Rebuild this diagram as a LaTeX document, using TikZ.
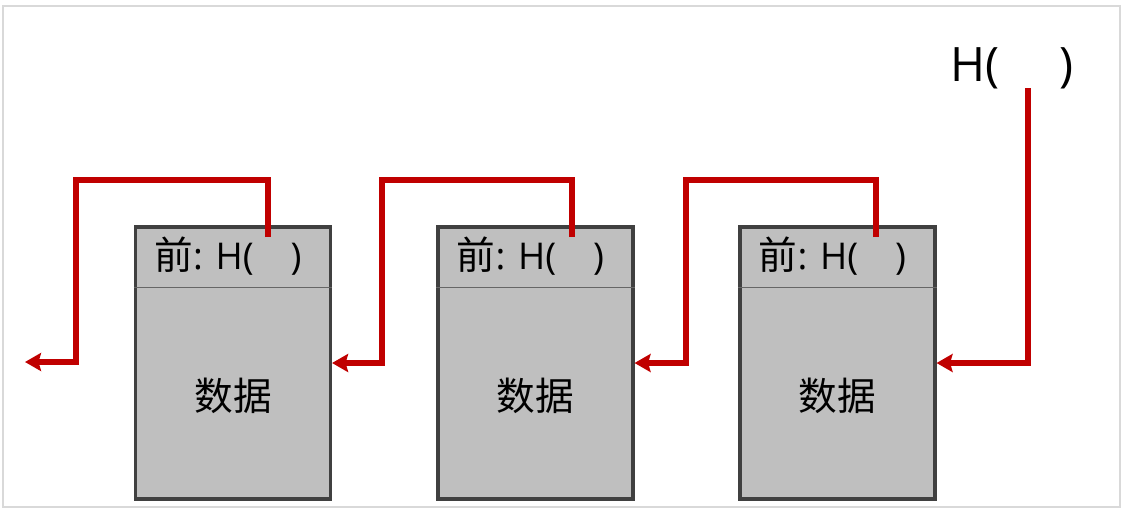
\documentclass[tikz,border=0pt]{standalone}
\usepackage{fontspec}
\setmainfont{Open Sans}
\newfontfamily\cjk{Noto Sans CJK SC}
\usetikzlibrary{arrows.meta,calc}
\definecolor{linkred}{HTML}{C00000}
\definecolor{boxgray}{HTML}{BFBFBF}
\definecolor{edgegray}{HTML}{404040}
\definecolor{framegray}{HTML}{D9D9D9}

\begin{document}
\begin{tikzpicture}[x=0.02cm,y=-0.02cm,
  block/.style={draw=edgegray,line width=1.8pt,fill=boxgray,minimum width=3.9cm,minimum height=5.44cm,inner sep=0pt},
  link/.style={draw=linkred,line width=3.1pt,-{Stealth[length=0.32cm,width=0.36cm,inset=0.05cm]}},
  head/.style={anchor=base,inner sep=0pt,font=\fontsize{21}{24}\selectfont},
  body/.style={inner sep=0pt,font=\cjk\fontsize{22}{26}\selectfont}]
\useasboundingbox (0,0) rectangle (1126,511);
\draw[framegray,line width=0.8pt] (3,6) rectangle (1120,507);
% the three blocks
\foreach \i/\x in {1/233,2/535.5,3/837.5}{
  \node[block] (b\i) at (\x,363) {};
  \draw[edgegray!80,line width=0.6pt] ($(b\i.north west)+(0,62)$) -- ($(b\i.north east)+(0,62)$);
  \node[head] (h\i) at ($(b\i.north)+(-5,44)$) {{\cjk\fontsize{22}{24}\selectfont 前}: H(\hspace{21pt})};
  \node[body] (d\i) at ($(b\i.center)+(0,33)$) {数据};
}
% the hash at the top
\node[anchor=base,inner sep=0pt,font=\fontsize{27}{30}\selectfont] (hash) at (1012,81) {H(\hspace{34pt})};
% links between the blocks
\coordinate (s1) at (268,237);
\coordinate (s2) at (572,237);
\coordinate (s3) at (876,237);
\coordinate (top) at (1028,88);
\coordinate (out) at (25,362);
\draw[link] (s1) |- (76,180) |- (out);
\draw[link] (s2) |- (382,180) |- (b1.east);
\draw[link] (s3) |- (686,180) |- (b2.east);
\draw[link] (top) |- (b3.east);
\end{tikzpicture}
\end{document}
